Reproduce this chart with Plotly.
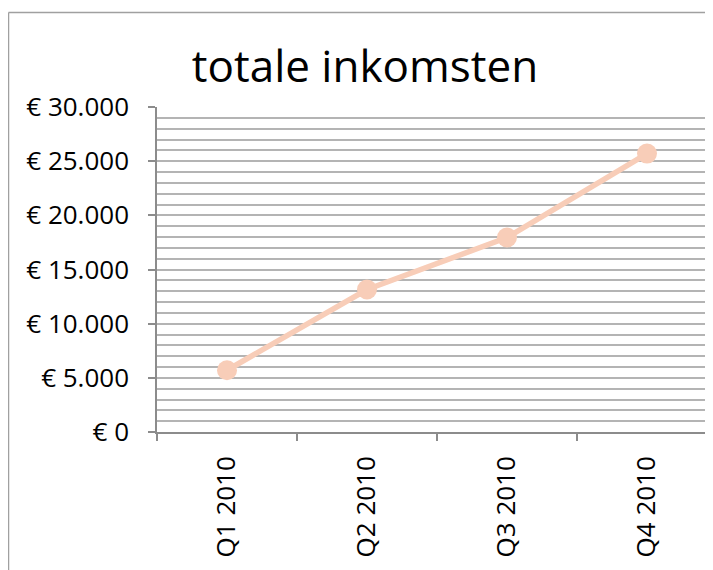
import plotly.graph_objects as go

categories = ["Q1 2010", "Q2 2010", "Q3 2010", "Q4 2010"]
values = [5700, 13150, 17950, 25700]
y_tickvals = [0, 5000, 10000, 15000, 20000, 25000, 30000]
y_ticktext = ["€ 0", "€ 5.000", "€ 10.000", "€ 15.000", "€ 20.000", "€ 25.000", "€ 30.000"]

# page body has an 8px default margin; compensate so the figure lines up with the window
OFF = 8
W, H = 713 - OFF, 570 - OFF
L, R, T, B = 157 - OFF, 0, 107 - OFF, 138
pw = W - L - R
ph = H - T - B
cat_w = 140.0
x_end = -0.5 + pw / cat_w

fig = go.Figure()
fig.add_trace(go.Scatter(
    x=categories, y=values, mode="lines+markers",
    line=dict(color="#F8CDB8", width=5.5),
    marker=dict(color="#F8CDB8", size=20),
    showlegend=False, hoverinfo="skip",
))

def px_to_paper_x(px):
    return (px - OFF - L) / pw

def px_to_paper_y(py):
    return (H - B - (py - OFF)) / ph

fig.update_layout(
    width=W, height=H,
    margin=dict(l=L, r=R, t=T, b=B, autoexpand=False),
    paper_bgcolor="white", plot_bgcolor="white",
    font=dict(family="Open Sans", color="black"),
    title=dict(text="totale inkomsten", x=(365 - OFF) / W, xanchor="center",
               y=1 - (67 - OFF) / H, yanchor="middle",
               font=dict(size=44, family="Open Sans", color="black")),
    xaxis=dict(
        type="category", range=[-0.5, x_end],
        tickson="boundaries", ticks="outside", ticklen=7, tickwidth=1.5, tickcolor="#8C8C8C",
        showline=True, linecolor="#8C8C8C", linewidth=1.5,
        showgrid=False, tickangle=-90, tickfont=dict(size=26, family="Open Sans"),
        ticklabelstandoff=12,
        zeroline=False, fixedrange=True,
    ),
    yaxis=dict(
        range=[0, 30000], tickvals=y_tickvals, ticktext=y_ticktext,
        ticks="outside", ticklen=7, tickwidth=1.5, tickcolor="#8C8C8C",
        showline=True, linecolor="#8C8C8C", linewidth=1.5,
        showgrid=True, gridcolor="#B4B4B4", gridwidth=1.5,
        minor=dict(dtick=1000, showgrid=True, gridcolor="#B4B4B4", gridwidth=1.5),
        zeroline=False, tickfont=dict(size=26, family="Open Sans"),
        ticklabelstandoff=14,
    ),
    shapes=[
        dict(type="line", xref="paper", yref="paper",
             x0=px_to_paper_x(8.5), x1=px_to_paper_x(8.5),
             y0=px_to_paper_y(12.5), y1=px_to_paper_y(575),
             line=dict(color="#A0A0A0", width=1.5)),
        dict(type="line", xref="paper", yref="paper",
             x0=px_to_paper_x(8.5), x1=px_to_paper_x(720),
             y0=px_to_paper_y(12.5), y1=px_to_paper_y(12.5),
             line=dict(color="#A0A0A0", width=1.5)),
    ],
)

fig.write_html("out.html")
